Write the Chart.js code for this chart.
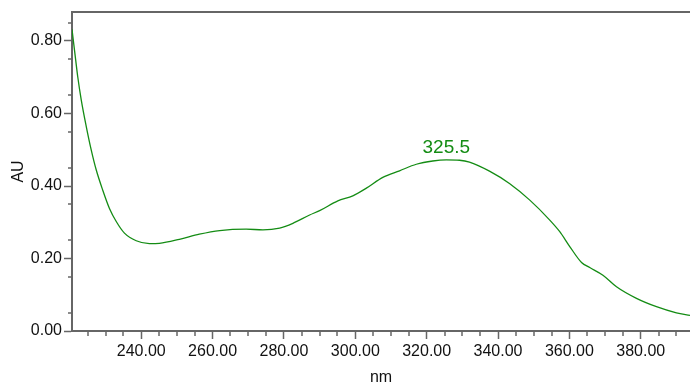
<!DOCTYPE html>
<html>
<head>
<meta charset="utf-8">
<title>UV spectrum</title>
<script src="https://cdn.jsdelivr.net/npm/chart.js@4/dist/chart.umd.min.js"></script>
<style>
    body { margin: 0; background: #fff; }
    canvas { display: block; }
</style>
</head>
<body>
<canvas id="spectrum" width="690" height="387"></canvas>
<script>
// wavelength (nm) and absorbance (AU)
const wavelengths = [220.6, 221.3, 222.2, 223.2, 224.6, 226.0, 227.4, 229.2, 231.1, 233.0,
    235.3, 238.6, 242.3, 245.1, 250.7, 256.3, 262.0, 269.4, 274.1, 278.8,
    282.5, 287.2, 290.0, 295.1, 299.3, 303.1, 307.7, 312.4, 317.1, 321.7,
    325.5, 329.2, 332.0, 337.6, 343.2, 348.9, 354.5, 357.3, 360.1, 363.4,
    365.7, 369.4, 373.2, 378.8, 384.4, 390.0, 393.8];
const absorbance = [0.832, 0.775, 0.702, 0.637, 0.564, 0.499, 0.444, 0.389, 0.338, 0.302,
    0.270, 0.249, 0.241, 0.242, 0.253, 0.267, 0.277, 0.281, 0.279, 0.284,
    0.297, 0.320, 0.332, 0.359, 0.373, 0.394, 0.424, 0.442, 0.460, 0.469,
    0.472, 0.471, 0.466, 0.441, 0.407, 0.361, 0.306, 0.274, 0.233, 0.189,
    0.175, 0.154, 0.122, 0.090, 0.067, 0.050, 0.043];

const xTicks = [240, 260, 280, 300, 320, 340, 360, 380];
const yTicks = [0, 0.2, 0.4, 0.6, 0.8];
const peakNm = 325.5;
const peakAu = 0.472;

const axisColor = "#666";
const green = "rgb(20,140,20)";

// minor ticks, top frame line and the peak label
const decorations = {
    id: "decorations",
    afterDraw(chart) {
        const ctx = chart.ctx;
        const area = chart.chartArea;
        const xs = chart.scales.x;
        const ys = chart.scales.y;

        ctx.save();
        ctx.strokeStyle = axisColor;
        ctx.lineWidth = 2;
        ctx.beginPath();
        ctx.moveTo(area.left, area.top);
        ctx.lineTo(area.right, area.top);
        ctx.stroke();

        ctx.lineWidth = 1.5;
        for (let nm = 225; nm <= 390; nm += 5) {
            if (nm % 20 === 0) continue;
            const px = Math.round(xs.getPixelForValue(nm));
            ctx.beginPath();
            ctx.moveTo(px, area.bottom);
            ctx.lineTo(px, area.bottom + 5);
            ctx.stroke();
        }
        for (let i = 1; i <= 17; i += 2) {
            const py = Math.round(ys.getPixelForValue(i * 0.05));
            ctx.beginPath();
            ctx.moveTo(area.left, py);
            ctx.lineTo(area.left - 4, py);
            ctx.stroke();
        }

        ctx.fillStyle = green;
        ctx.font = "19px 'Liberation Sans', Arial, sans-serif";
        ctx.textAlign = "center";
        ctx.textBaseline = "alphabetic";
        ctx.fillText(String(peakNm), xs.getPixelForValue(peakNm), ys.getPixelForValue(peakAu) - 7);
        ctx.restore();
    }
};

const tickFont = { family: "'Liberation Sans', Arial, sans-serif", size: 16 };

new Chart(document.getElementById("spectrum"), {
    type: "line",
    data: {
        datasets: [{
            data: wavelengths.map((nm, i) => ({ x: nm, y: absorbance[i] })),
            borderColor: green,
            borderWidth: 1.3,
            pointRadius: 0,
            cubicInterpolationMode: "monotone",
            fill: false
        }]
    },
    options: {
        responsive: false,
        animation: false,
        layout: { padding: { top: 12, right: 0, left: 0, bottom: 0 } },
        plugins: { legend: { display: false }, tooltip: { enabled: false } },
        scales: {
            x: {
                type: "linear",
                min: 220.6,
                max: 393.8,
                afterBuildTicks: scale => { scale.ticks = xTicks.map(v => ({ value: v })); },
                afterFit: scale => { scale.height = 56; },
                ticks: {
                    color: "#111",
                    font: tickFont,
                    padding: 3,
                    maxRotation: 0,
                    callback: v => Number(v).toFixed(2)
                },
                grid: { drawOnChartArea: false, color: axisColor, tickLength: 8, tickWidth: 1.5 },
                border: { color: axisColor, width: 2 },
                title: {
                    display: true,
                    text: "nm",
                    color: "#111",
                    font: tickFont,
                    padding: { top: 0, bottom: 0 }
                }
            },
            y: {
                min: 0,
                max: 0.88,
                afterBuildTicks: scale => { scale.ticks = yTicks.map(v => ({ value: v })); },
                afterFit: scale => { scale.width = 72; },
                ticks: {
                    color: "#111",
                    font: tickFont,
                    padding: 2,
                    callback: v => Number(v).toFixed(2)
                },
                grid: { drawOnChartArea: false, color: axisColor, tickLength: 8, tickWidth: 1.5 },
                border: { color: axisColor, width: 2 },
                title: {
                    display: true,
                    text: "AU",
                    color: "#111",
                    font: tickFont,
                    padding: { top: 9, bottom: 0 }
                }
            }
        }
    },
    plugins: [decorations]
});
</script>
</body>
</html>
